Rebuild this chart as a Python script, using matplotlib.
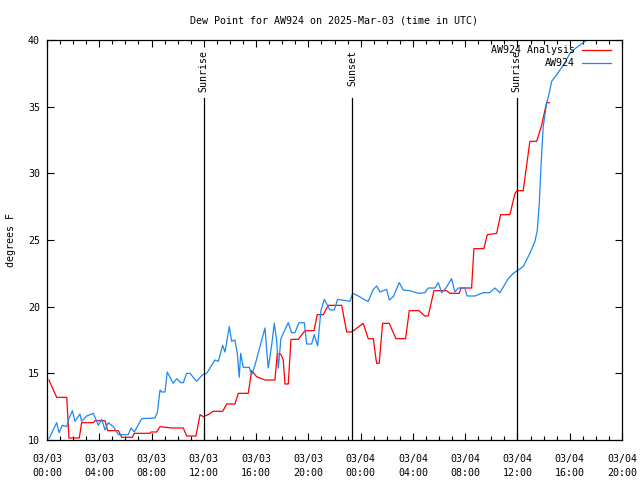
import matplotlib
matplotlib.use("Agg")
import matplotlib.pyplot as plt
from matplotlib.ticker import MultipleLocator

# hours since 2025-03-03 00:00 UTC, dew point in F
ana_hours = [0.15, 0.74, 1.51, 1.68, 2.47, 2.65, 3.54, 3.67, 4.44, 4.64, 5.46, 5.72, 6.53, 6.68,
             7.88, 7.96, 8.39, 8.65, 9.54, 10.43, 10.69, 11.40, 11.71, 11.96, 12.32, 12.72, 13.44,
             13.75, 14.38, 14.64, 15.40, 15.66, 16.04, 16.68, 17.44, 17.62, 17.88, 18.08, 18.21,
             18.46, 18.67, 19.23, 19.74, 20.43, 20.68, 21.14, 21.52, 22.55, 22.93, 23.31, 24.20,
             24.58, 24.97, 25.17, 25.23, 25.42, 25.68, 26.19, 26.70, 27.44, 27.72, 28.46, 28.92,
             29.17, 29.61, 30.58, 30.83, 31.55, 31.68, 32.49, 32.67, 33.43, 33.69, 34.41, 34.71,
             35.42, 35.81, 35.98, 36.44, 36.95, 37.47, 37.85, 38.23, 38.43]
ana_dew = [14.5, 13.2, 13.2, 10.15, 10.15, 11.3, 11.3, 11.45, 11.45, 10.7, 10.7, 10.2, 10.2, 10.5,
           10.5, 10.6, 10.6, 11.0, 10.9, 10.9, 10.3, 10.3, 11.9, 11.75, 11.9, 12.15, 12.15,
           12.7, 12.7, 13.5, 13.5, 15.2, 14.75, 14.5, 14.5, 16.45, 16.45, 16.0, 14.2,
           14.2, 17.55, 17.55, 18.2, 18.2, 19.4, 19.4, 20.1, 20.1, 18.1, 18.1, 18.75,
           17.6, 17.6, 16.1, 15.75, 15.75, 18.75, 18.75, 17.6, 17.6, 19.7, 19.7, 19.3,
           19.3, 21.2, 21.2, 21.0, 21.0, 21.4, 21.4, 24.35, 24.35, 25.4, 25.5, 26.9,
           26.9, 28.5, 28.7, 28.7, 32.4, 32.4, 33.6, 35.3, 35.3]

obs_hours = [0.15, 0.74, 0.92, 1.17, 1.51, 1.63, 1.94, 2.14, 2.52, 2.65, 3.04, 3.54, 3.93, 4.19,
             4.44, 4.69, 5.07, 5.46, 6.22, 6.43, 6.68, 7.25, 8.26, 8.44, 8.65, 8.78, 9.03, 9.20,
             9.66, 9.92, 10.23, 10.43, 10.69, 10.94, 11.45, 11.91, 12.22, 12.85, 13.11, 13.44,
             13.62, 13.95, 14.13, 14.38, 14.56, 14.71, 14.82, 15.02, 15.48, 15.66, 15.91, 16.68,
             16.81, 16.93, 17.19, 17.39, 17.57, 17.70, 17.90, 18.08, 18.46, 18.72, 18.97, 19.28,
             19.69, 19.87, 20.25, 20.45, 20.71, 20.96, 21.22, 21.65, 21.98, 22.24, 23.18, 23.39,
             23.82, 24.33, 24.58, 24.97, 25.23, 25.48, 25.99, 26.19, 26.50, 26.95, 27.26, 27.77,
             28.41, 28.92, 29.17, 29.69, 29.94, 30.20, 30.53, 30.96, 31.21, 31.47, 31.98, 32.15,
             32.75, 33.38, 33.89, 34.28, 34.66, 35.29, 35.68, 36.06, 36.44, 36.95, 37.34, 37.52,
             37.67, 37.80, 37.97, 38.23, 38.43, 38.62, 39.00, 39.51, 40.02, 40.47, 41.24]
obs_dew = [10.1, 11.3, 10.55, 11.1, 11.0, 11.5, 12.2, 11.4, 11.95, 11.4, 11.8, 12.0, 11.1, 11.55,
           10.75, 11.3, 11.0, 10.4, 10.4, 10.9, 10.6, 11.6, 11.65, 12.05, 13.75, 13.6, 13.6, 15.1,
           14.25, 14.6, 14.3, 14.3, 15.0, 15.0, 14.4, 14.9, 15.0, 16.0, 15.9, 17.1,
           16.6, 18.5, 17.4, 17.5, 16.5, 14.7, 16.5, 15.45, 15.45, 14.9, 15.6, 18.4,
           16.75, 15.4, 17.1, 18.75, 17.5, 15.4, 17.6, 18.0, 18.8, 18.05, 18.05, 18.8,
           18.8, 17.2, 17.2, 17.9, 17.05, 19.7, 20.55, 19.75, 19.75, 20.55, 20.4, 21.0,
           20.8, 20.5, 20.4, 21.3, 21.55, 21.1, 21.3, 20.5, 20.75, 21.8, 21.25, 21.2,
           21.0, 21.05, 21.4, 21.4, 21.8, 21.05, 21.4, 22.1, 21.1, 21.4, 21.4, 20.8,
           20.8, 21.05, 21.05, 21.4, 21.05, 22.1, 22.5, 22.75, 23.0, 24.0, 24.9, 25.75,
           27.75, 30.5, 33.5, 35.25, 36.0, 36.9, 37.4, 38.1, 39.0, 39.4, 39.95]

events = ["Sunrise", "Sunset", "Sunrise"]
event_hours = [11.98, 23.35, 35.95]

tick_hours = list(range(0, 45, 4))
tick_labels = ["03/03\n00:00", "03/03\n04:00", "03/03\n08:00", "03/03\n12:00", "03/03\n16:00",
               "03/03\n20:00", "03/04\n00:00", "03/04\n04:00", "03/04\n08:00", "03/04\n12:00",
               "03/04\n16:00", "03/04\n20:00"]

plt.rcParams['font.family'] = ['DejaVu Sans Mono']
plt.rcParams['font.size'] = 7.2

fig = plt.figure(figsize=(6.4, 4.8), dpi=100)
ax = fig.add_axes([47/640, 40/480, 575/640, 400/480])

ax.plot(ana_hours, ana_dew, color='red', lw=0.9)
ax.plot(obs_hours, obs_dew, color='#1e88f0', lw=0.9)

for name, h in zip(events, event_hours):
    ax.axvline(h, ymin=0, ymax=0.855, color='black', lw=0.9)
    ax.text(h, 0.975, name, rotation=90, ha='center', va='top',
            transform=ax.get_xaxis_transform())

ax.set_xlim(0, 44)
ax.set_ylim(10, 40)
ax.set_xticks(tick_hours)
ax.set_xticklabels(tick_labels, linespacing=1.55)
ax.xaxis.set_minor_locator(MultipleLocator(1))
ax.set_yticks(range(10, 41, 5))
ax.tick_params(direction='in', top=True, right=True, length=5, width=0.8)
ax.tick_params(which='minor', direction='in', top=True, length=3, width=0.8)
ax.tick_params(axis='x', pad=10)
ax.tick_params(axis='y', pad=5)
for s in ax.spines.values():
    s.set_linewidth(0.9)

ax.set_title("Dew Point for AW924 on 2025-Mar-03 (time in UTC)", fontsize=7.2, pad=12)
ax.set_ylabel("degrees F", labelpad=9)

# key, gnuplot style
keys = [("AW924 Analysis", 'red'), ("AW924", '#1e88f0')]
for i, (lbl, c) in enumerate(keys):
    yk = (440 - 50 - 13 * i) / 400
    ax.text((575 - 47) / 575, yk, lbl, ha='right', va='center', transform=ax.transAxes)
    ax.plot([(582 - 47) / 575, (611 - 47) / 575], [yk, yk], color=c, lw=0.9,
            transform=ax.transAxes, clip_on=False)

fig.savefig("out.png", dpi=100)
